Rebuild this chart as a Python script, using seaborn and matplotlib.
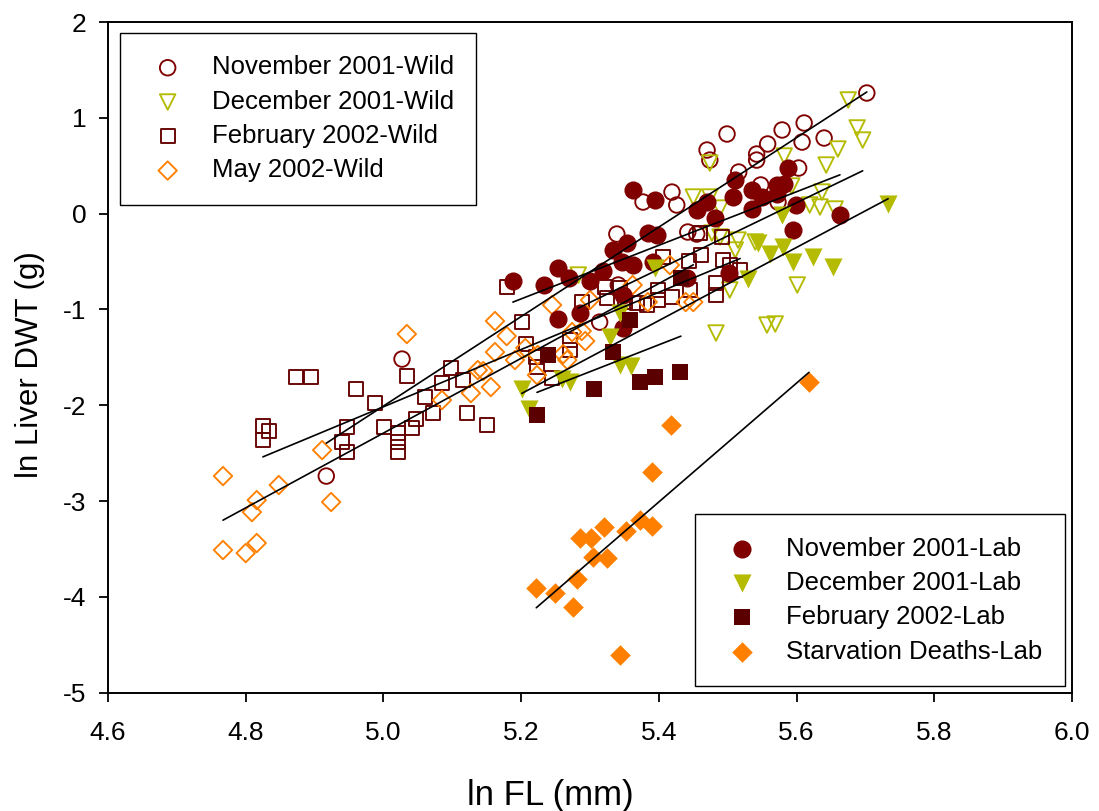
import numpy as np
import pandas as pd
import matplotlib
matplotlib.use("Agg")
import matplotlib.pyplot as plt
import seaborn as sns

# ---------------- data (ln FL, ln liver DWT) ----------------
nov_wild_x = [4.917, 5.027, 5.314, 5.341, 5.339, 5.377, 5.419, 5.426, 5.442, 5.455, 5.470, 5.474, 5.499,
              5.516, 5.542, 5.542, 5.548, 5.558, 5.573, 5.579, 5.603, 5.608, 5.611, 5.640, 5.702]
nov_wild_y = [-2.739, -1.518, -1.132, -0.745, -0.213, 0.121, 0.225, 0.090, -0.192, -0.213, 0.664, 0.559, 0.831,
              0.434, 0.622, 0.559, 0.299, 0.727, 0.121, 0.873, 0.476, 0.747, 0.946, 0.789, 1.259]

dec_wild_x = [5.283, 5.450, 5.474, 5.474, 5.477, 5.489, 5.489, 5.511, 5.515, 5.540, 5.503, 5.483, 5.557,
              5.569, 5.582, 5.593, 5.601, 5.619, 5.634, 5.637, 5.643, 5.656, 5.660, 5.675, 5.688, 5.696]
dec_wild_y = [-0.641, 0.173, 0.528, 0.173, -0.203, 0.058, -0.244, -0.380, -0.276, -0.296, -0.797, -1.246, -1.163,
              -1.152, 0.601, 0.288, -0.745, 0.090, 0.069, 0.225, 0.507, 0.048, 0.674, 1.186, 0.894, 0.768]

feb_wild_x = [4.825, 4.834, 4.825, 4.873, 4.895, 4.960, 4.988, 5.034, 4.947, 4.940, 4.947, 5.001, 5.021,
              5.021, 5.021, 5.041, 5.047, 5.072, 5.060, 5.085, 5.098, 5.116, 5.121, 5.150, 5.179, 5.201,
              5.207, 5.222, 5.223, 5.245, 5.271, 5.271, 5.288, 5.322, 5.325, 5.344, 5.351, 5.368, 5.383,
              5.399, 5.399, 5.406, 5.419, 5.444, 5.445, 5.461, 5.460, 5.492, 5.493, 5.503, 5.518, 5.483, 5.483]
feb_wild_y = [-2.217, -2.269, -2.363, -1.706, -1.706, -1.831, -1.977, -1.695, -2.228, -2.384, -2.489, -2.228, -2.290,
              -2.384, -2.489, -2.238, -2.144, -2.081, -1.914, -1.768, -1.612, -1.737, -2.081, -2.207, -0.766, -1.132,
              -1.361, -1.497, -1.601, -1.716, -1.319, -1.424, -0.923, -0.766, -0.881, -0.777, -0.923, -0.933, -0.954,
              -0.797, -0.902, -0.453, -0.871, -0.495, -0.797, -0.432, -0.203, -0.244, -0.484, -0.537, -0.589, -0.724, -0.850]

may_wild_x = [4.767, 4.767, 4.800, 4.816, 4.816, 4.809, 4.848, 4.911, 4.924, 5.034, 5.085, 5.127, 5.137,
              5.145, 5.156, 5.162, 5.162, 5.179, 5.191, 5.206, 5.223, 5.224, 5.245, 5.261, 5.267, 5.274,
              5.288, 5.293, 5.300, 5.362, 5.384, 5.416, 5.439, 5.450]
may_wild_y = [-2.739, -3.511, -3.543, -3.438, -2.990, -3.115, -2.833, -2.468, -3.010, -1.257, -1.946, -1.873, -1.633,
              -1.643, -1.810, -1.121, -1.445, -1.278, -1.528, -1.403, -1.685, -1.476, -0.954, -1.466, -1.528, -1.236,
              -1.225, -1.330, -0.902, -0.745, -0.923, -0.537, -0.923, -0.923]

nov_lab_x = [5.188, 5.233, 5.254, 5.269, 5.300, 5.319, 5.333, 5.354, 5.346, 5.362, 5.362, 5.394, 5.254,
             5.285, 5.348, 5.348, 5.384, 5.397, 5.391, 5.441, 5.455, 5.470, 5.481, 5.511, 5.508, 5.535,
             5.535, 5.550, 5.572, 5.582, 5.588, 5.572, 5.599, 5.663, 5.595, 5.502]
nov_lab_y = [-0.704, -0.745, -0.568, -0.672, -0.704, -0.599, -0.380, -0.307, -0.505, -0.537, 0.246, 0.142, -1.100,
             -1.038, -0.850, -1.194, -0.203, -0.223, -0.505, -0.672, 0.038, 0.121, -0.046, 0.351, 0.173, 0.246,
             0.048, 0.173, 0.299, 0.309, 0.476, 0.205, 0.090, -0.015, -0.171, -0.620]

dec_lab_x = [5.201, 5.211, 5.259, 5.271, 5.329, 5.344, 5.344, 5.360, 5.394, 5.529, 5.544, 5.561, 5.579,
             5.580, 5.595, 5.624, 5.653, 5.733]
dec_lab_y = [-1.831, -2.040, -1.727, -1.758, -1.288, -1.038, -1.580, -1.591, -0.568, -0.683, -0.307, -0.422, -0.015,
             -0.349, -0.505, -0.453, -0.557, 0.100]

feb_lab_x = [5.223, 5.239, 5.306, 5.333, 5.358, 5.373, 5.394, 5.431, 5.432]
feb_lab_y = [-2.102, -1.476, -1.831, -1.445, -1.111, -1.758, -1.706, -1.653, -0.672]

starv_x = [5.417, 5.390, 5.285, 5.301, 5.320, 5.305, 5.325, 5.353, 5.372, 5.390, 5.281, 5.222, 5.249,
           5.275, 5.344, 5.618]
starv_y = [-2.207, -2.700, -3.383, -3.383, -3.275, -3.581, -3.598, -3.313, -3.198, -3.261, -3.817, -3.911, -3.963,
           -4.103, -4.607, -1.758]

wild_labels = ["November 2001-Wild", "December 2001-Wild", "February 2002-Wild", "May 2002-Wild"]
lab_labels = ["November 2001-Lab", "December 2001-Lab", "February 2002-Lab", "Starvation Deaths-Lab"]

x_ticks = [4.6, 4.8, 5.0, 5.2, 5.4, 5.6, 5.8, 6.0]
y_ticks = [-5, -4, -3, -2, -1, 0, 1, 2]

# ---------------- styling ----------------
sns.set_style("ticks")
plt.rcParams["font.family"] = ["Liberation Sans", "DejaVu Sans"]
plt.rcParams["text.color"] = "black"
plt.rcParams["axes.labelcolor"] = "black"
plt.rcParams["xtick.color"] = "black"
plt.rcParams["ytick.color"] = "black"

C_NOV = "#800000"
C_DEC = "#B4BB00"
C_FEBW = "#650000"
C_FEBL = "#5A0000"
C_ORA = "#FF8000"

fig = plt.figure(figsize=(10.99, 8.11), dpi=100)
ax = fig.add_axes([108 / 1099, 1 - 692.7 / 811, 964 / 1099, 670.7 / 811])

wild = [
    (nov_wild_x, nov_wild_y, "o", C_NOV, 125),
    (dec_wild_x, dec_wild_y, "v", C_DEC, 125),
    (feb_wild_x, feb_wild_y, "s", C_FEBW, 100),
    (may_wild_x, may_wild_y, "D", C_ORA, 88),
]
lab = [
    (nov_lab_x, nov_lab_y, "o", C_NOV, 170),
    (dec_lab_x, dec_lab_y, "v", C_DEC, 170),
    (feb_lab_x, feb_lab_y, "s", C_FEBL, 140),
    (starv_x, starv_y, "D", C_ORA, 110),
]

wild_handles = []
for (xs, ys, m, c, s), lab_name in zip(wild, wild_labels):
    df = pd.DataFrame({"x": xs, "y": ys})
    sns.scatterplot(data=df, x="x", y="y", marker=m, s=s, color=c, ax=ax, zorder=3)
    coll = ax.collections[-1]
    coll.set_facecolor("none")
    coll.set_edgecolor(c)
    coll.set_linewidth(1.35)
    wild_handles.append(coll)

lab_handles = []
for (xs, ys, m, c, s), lab_name in zip(lab, lab_labels):
    df = pd.DataFrame({"x": xs, "y": ys})
    sns.scatterplot(data=df, x="x", y="y", marker=m, s=s, color=c, ax=ax, linewidth=0, zorder=4)
    coll = ax.collections[-1]
    coll.set_facecolor(c)
    coll.set_edgecolor(c)
    lab_handles.append(coll)

# regression lines for each group
for xs, ys, m, c, s in wild + lab:
    df = pd.DataFrame({"x": xs, "y": ys})
    sns.regplot(data=df, x="x", y="y", scatter=False, ci=None, truncate=True,
                color="black", line_kws={"lw": 1.2, "zorder": 5}, ax=ax)

ax.set_xlim(4.6, 6.0)
ax.set_ylim(-5, 2)
ax.set_xticks(x_ticks)
ax.set_xticklabels([f"{v:.1f}" for v in x_ticks])
ax.set_yticks(y_ticks)
ax.set_yticklabels([str(v) for v in y_ticks])
ax.tick_params(axis="both", direction="out", length=6.5, width=1.3, labelsize=19,
               colors="black", top=False, right=False)
ax.tick_params(axis="x", pad=14)
ax.tick_params(axis="y", pad=9)
for sp in ax.spines.values():
    sp.set_visible(True)
    sp.set_color("black")
    sp.set_linewidth(1.4)

ax.set_xlabel("ln FL (mm)", fontsize=25)
ax.set_ylabel("ln Liver DWT (g)", fontsize=22.5)
ax.xaxis.set_label_coords((550 - 108) / 964, (692.7 - 795) / 670.7)
ax.xaxis.label.set_va("center")
ax.yaxis.set_label_coords((30 - 108) / 964, (692.7 - 365) / 670.7)
ax.yaxis.label.set_va("center")

leg_kw = dict(frameon=True, fancybox=False, edgecolor="black", framealpha=1, fontsize=18.5,
              handlelength=1.96, handletextpad=0.73, borderpad=0.875, labelspacing=0.40,
              scatterpoints=1, borderaxespad=0)
leg1 = ax.legend(wild_handles, wild_labels, loc="upper left",
                 bbox_to_anchor=(12 / 964, 1 - 11 / 670.7), **leg_kw)
leg1.get_frame().set_linewidth(1.0)
ax.add_artist(leg1)
leg2 = ax.legend(lab_handles, lab_labels, loc="lower right",
                 bbox_to_anchor=((1065 - 108) / 964, 6.7 / 670.7), **leg_kw)
leg2.get_frame().set_linewidth(1.0)

fig.savefig("out.png", dpi=100)
